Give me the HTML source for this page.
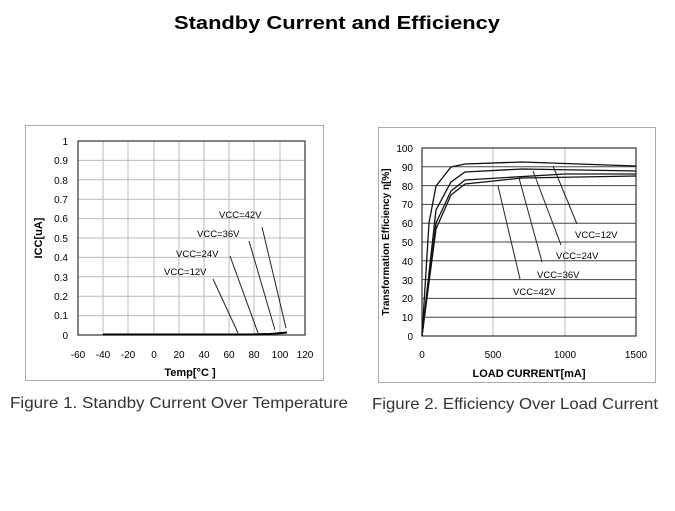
<!DOCTYPE html><html><head><style>body{margin:0;background:#fff;width:675px;height:506px;overflow:hidden;font-family:"Liberation Sans",sans-serif}</style></head><body>
<svg width="675" height="506" xmlns="http://www.w3.org/2000/svg" font-family="Liberation Sans, sans-serif">
<text x="337" y="29" text-anchor="middle" font-size="18" font-weight="bold" textLength="326" lengthAdjust="spacingAndGlyphs">Standby Current and Efficiency</text>
<rect x="25.5" y="125.5" width="298" height="255" fill="none" stroke="#aaa"/>
<g stroke="#bbb" stroke-width="1">
<line x1="103" y1="141" x2="103" y2="335"/><line x1="128" y1="141" x2="128" y2="335"/><line x1="154" y1="141" x2="154" y2="335"/><line x1="179" y1="141" x2="179" y2="335"/><line x1="204" y1="141" x2="204" y2="335"/><line x1="229" y1="141" x2="229" y2="335"/><line x1="254" y1="141" x2="254" y2="335"/><line x1="280" y1="141" x2="280" y2="335"/>
<line x1="78" y1="160.4" x2="305" y2="160.4"/><line x1="78" y1="179.8" x2="305" y2="179.8"/><line x1="78" y1="199.2" x2="305" y2="199.2"/><line x1="78" y1="218.6" x2="305" y2="218.6"/><line x1="78" y1="238" x2="305" y2="238"/><line x1="78" y1="257.4" x2="305" y2="257.4"/><line x1="78" y1="276.8" x2="305" y2="276.8"/><line x1="78" y1="296.2" x2="305" y2="296.2"/><line x1="78" y1="315.6" x2="305" y2="315.6"/>
</g>
<rect x="78" y="141" width="227" height="194" fill="none" stroke="#333" stroke-width="1.2"/>
<g font-size="10" text-anchor="end">
<text x="68" y="145">1</text><text x="68" y="164">0.9</text><text x="68" y="184">0.8</text><text x="68" y="203">0.7</text><text x="68" y="222">0.6</text><text x="68" y="242">0.5</text><text x="68" y="261">0.4</text><text x="68" y="281">0.3</text><text x="68" y="300">0.2</text><text x="68" y="319">0.1</text><text x="68" y="339">0</text></g>
<g font-size="10" text-anchor="middle">
<text x="78" y="358">-60</text><text x="103" y="358">-40</text><text x="128" y="358">-20</text><text x="154" y="358">0</text><text x="179" y="358">20</text><text x="204" y="358">40</text><text x="229" y="358">60</text><text x="254" y="358">80</text><text x="280" y="358">100</text><text x="305" y="358">120</text></g>
<text x="190" y="376" text-anchor="middle" font-size="11" font-weight="bold">Temp[°C ]</text>
<text transform="translate(42,238) rotate(-90)" text-anchor="middle" font-size="11" font-weight="bold">ICC[uA]</text>
<polyline points="103,334.5 250,334.5 270,334 287,332.5" fill="none" stroke="#000" stroke-width="2"/>
<g stroke="#222" stroke-width="1"><line x1="262" y1="227" x2="286" y2="328"/><line x1="249" y1="241" x2="275" y2="330"/><line x1="230" y1="256" x2="258" y2="333"/><line x1="213" y1="279" x2="238" y2="333"/></g>
<g font-size="9.5"><text x="219" y="218">VCC=42V</text><text x="197" y="237">VCC=36V</text><text x="176" y="257">VCC=24V</text><text x="164" y="275">VCC=12V</text></g>
<text x="10" y="408" font-size="16" fill="#333" textLength="338" lengthAdjust="spacingAndGlyphs">Figure 1. Standby Current Over Temperature</text>

<rect x="378.5" y="127.5" width="277" height="255" fill="none" stroke="#aaa"/>
<g stroke="#bbb"><line x1="493" y1="148" x2="493" y2="336"/><line x1="565" y1="148" x2="565" y2="336"/></g>
<g stroke="#444" stroke-width="1">
<line x1="422" y1="166.8" x2="636" y2="166.8"/><line x1="422" y1="185.6" x2="636" y2="185.6"/><line x1="422" y1="204.4" x2="636" y2="204.4"/><line x1="422" y1="223.2" x2="636" y2="223.2"/><line x1="422" y1="242" x2="636" y2="242"/><line x1="422" y1="260.8" x2="636" y2="260.8"/><line x1="422" y1="279.6" x2="636" y2="279.6"/><line x1="422" y1="298.4" x2="636" y2="298.4"/><line x1="422" y1="317.2" x2="636" y2="317.2"/></g>
<rect x="422" y="148" width="214" height="188" fill="none" stroke="#333" stroke-width="1.2"/>
<g font-size="10" text-anchor="end">
<text x="413" y="152">100</text><text x="413" y="171">90</text><text x="413" y="190">80</text><text x="413" y="208">70</text><text x="413" y="227">60</text><text x="413" y="246">50</text><text x="413" y="265">40</text><text x="413" y="284">30</text><text x="413" y="302">20</text><text x="413" y="321">10</text><text x="413" y="340">0</text></g>
<g font-size="10" text-anchor="middle"><text x="422" y="358">0</text><text x="493" y="358">500</text><text x="565" y="358">1000</text><text x="636" y="358">1500</text></g>
<text x="529" y="377" text-anchor="middle" font-size="11" font-weight="bold">LOAD CURRENT[mA]</text>
<text transform="translate(389,242) rotate(-90)" text-anchor="middle" font-size="10" font-weight="bold">Transformation Efficiency  η[%]</text>
<g fill="none" stroke="#111" stroke-width="1.3">
<polyline points="422,336 429,223 436,186 451,167 465,164 522,162 636,166"/>
<polyline points="422,336 436,210 451,182 465,172 522,169 636,171"/>
<polyline points="422,336 436,223 451,191 465,180 565,174 636,174"/>
<polyline points="422,336 436,229 451,195 465,184 522,178 636,176"/></g>
<g stroke="#222"><line x1="553" y1="166" x2="577" y2="224"/><line x1="533" y1="171" x2="561" y2="245"/><line x1="519" y1="178" x2="542" y2="262"/><line x1="498" y1="186" x2="520" y2="279"/></g>
<g font-size="9.5"><text x="575" y="238">VCC=12V</text><text x="556" y="259">VCC=24V</text><text x="537" y="278">VCC=36V</text><text x="513" y="295">VCC=42V</text></g>
<text x="372" y="409" font-size="16" fill="#333" textLength="286" lengthAdjust="spacingAndGlyphs">Figure 2. Efficiency Over Load Current</text>
</svg></body></html>
